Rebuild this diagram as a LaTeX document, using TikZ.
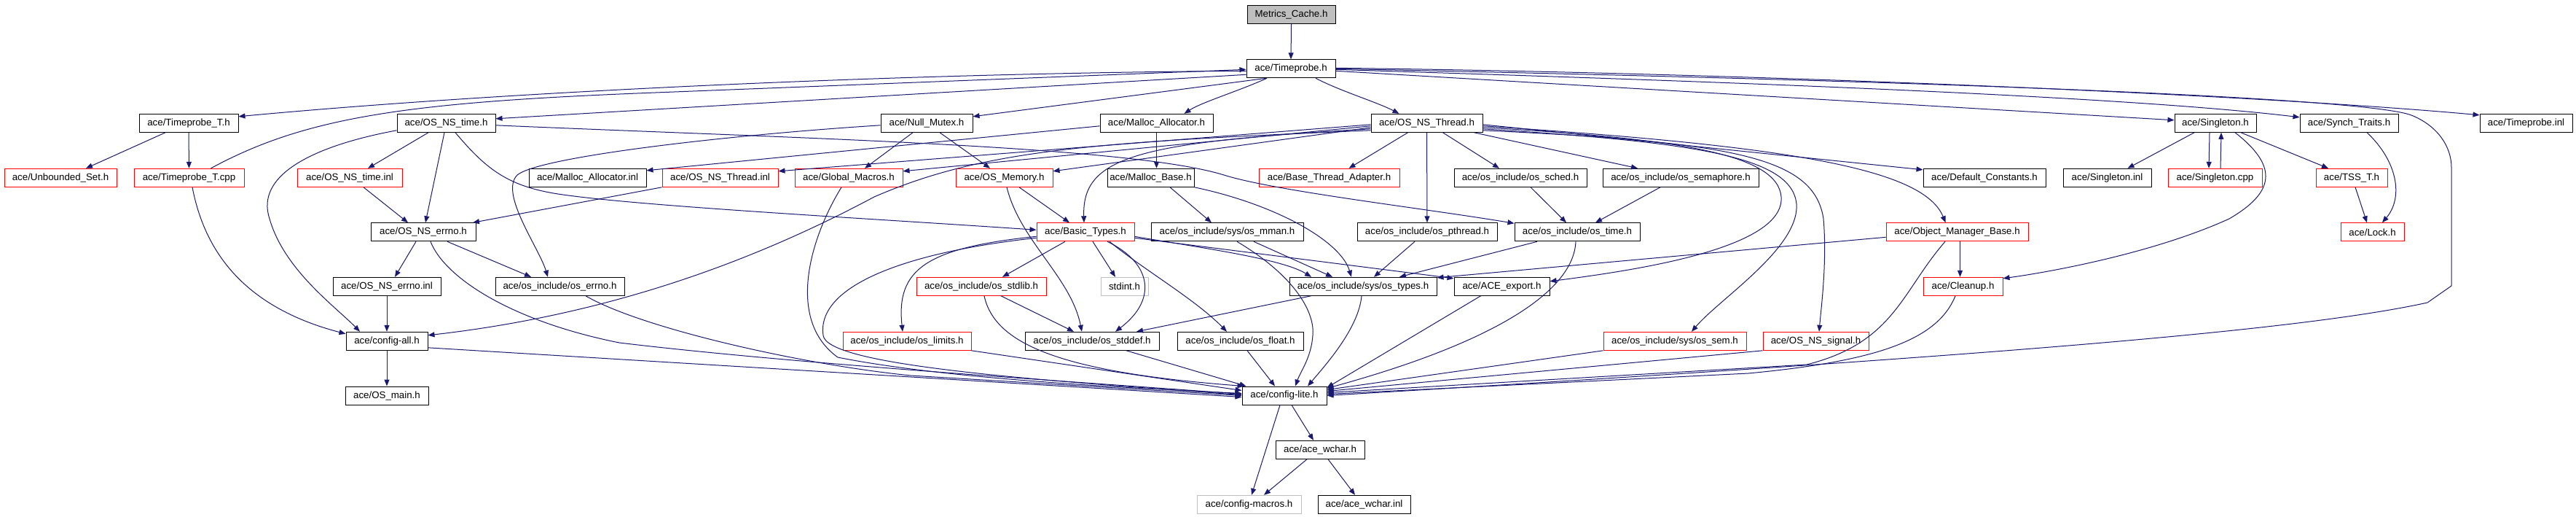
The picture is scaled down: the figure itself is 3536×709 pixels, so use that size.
\documentclass[tikz,border=0pt]{standalone}
\usepackage{fontspec}
\setmainfont{Liberation Sans}
\usetikzlibrary{arrows.meta,calc}
\definecolor{edgec}{HTML}{191970}
\definecolor{nred}{HTML}{FF0000}
\definecolor{lgray}{HTML}{BFBFBF}
\tikzset{
  box/.style={draw=black, line width=1pt, minimum height=25pt, inner sep=0pt, fill=white,
    font=\fontsize{13.3pt}{15pt}\selectfont, text=black},
  nb/.style={box},
  nr/.style={box, draw=nred},
  ng/.style={box, draw=lgray},
  nroot/.style={box, fill=lgray},
  lnk/.style={draw=edgec, line width=1pt, -{Triangle[length=9pt,width=7pt]}},
}
\begin{document}
\begin{tikzpicture}[x=1pt,y=-1pt]
\fill[white] (0,0) rectangle (3536,709);
\useasboundingbox (0,0) rectangle (3536,709);
% row 0
\node[nroot, minimum width=121pt] (meta) at (1772.5,19.8) {Metrics\_Cache.h};
% row 1
\node[nb, minimum width=122pt] (tp) at (1772,94.3) {ace/Timeprobe.h};
% row 2
\node[nb, minimum width=136pt] (tpT) at (259,168.8) {ace/Timeprobe\_T.h};
\node[nb, minimum width=135pt] (nstime) at (612.5,168.8) {ace/OS\_NS\_time.h};
\node[nb, minimum width=126pt] (nullm) at (1272,168.8) {ace/Null\_Mutex.h};
\node[nb, minimum width=155pt] (malloc) at (1587.5,168.8) {ace/Malloc\_Allocator.h};
\node[nb, minimum width=153pt] (nsthr) at (1958.5,168.8) {ace/OS\_NS\_Thread.h};
\node[nb, minimum width=112pt] (single) at (3041,168.8) {ace/Singleton.h};
\node[nb, minimum width=135pt] (synch) at (3224.5,168.8) {ace/Synch\_Traits.h};
\node[nb, minimum width=127pt] (tpinl) at (3467.5,168.8) {ace/Timeprobe.inl};
% row 3
\node[nr, minimum width=154pt] (unb) at (83,243.8) {ace/Unbounded\_Set.h};
\node[nr, minimum width=151pt] (tpTcpp) at (259.5,243.8) {ace/Timeprobe\_T.cpp};
\node[nr, minimum width=144pt] (nstimeinl) at (480,243.8) {ace/OS\_NS\_time.inl};
\node[nb, minimum width=161pt] (mallocinl) at (806.5,243.8) {ace/Malloc\_Allocator.inl};
\node[nr, minimum width=159pt] (nsthrinl) at (988.5,243.8) {ace/OS\_NS\_Thread.inl};
\node[nr, minimum width=148pt] (glob) at (1165,243.8) {ace/Global\_Macros.h};
\node[nr, minimum width=133pt] (osmem) at (1378.5,243.8) {ace/OS\_Memory.h};
\node[nb, minimum width=119pt] (mbase) at (1579.5,243.8) {ace/Malloc\_Base.h};
\node[nr, minimum width=193pt] (bta) at (1824.5,243.8) {ace/Base\_Thread\_Adapter.h};
\node[nb, minimum width=182pt] (sched) at (2087,243.8) {ace/os\_include/os\_sched.h};
\node[nb, minimum width=214pt] (semaph) at (2307,243.8) {ace/os\_include/os\_semaphore.h};
\node[nb, minimum width=168pt] (defc) at (2724,243.8) {ace/Default\_Constants.h};
\node[nb, minimum width=121pt] (singinl) at (2892.5,243.8) {ace/Singleton.inl};
\node[nr, minimum width=129pt] (singcpp) at (3040.5,243.8) {ace/Singleton.cpp};
\node[nr, minimum width=98pt] (tss) at (3228,243.8) {ace/TSS\_T.h};
% row 4
\node[nb, minimum width=144pt] (nserrno) at (581,318.3) {ace/OS\_NS\_errno.h};
\node[nr, minimum width=134pt] (basic) at (1490,318.3) {ace/Basic\_Types.h};
\node[nb, minimum width=209pt] (mman) at (1684.5,318.3) {ace/os\_include/sys/os\_mman.h};
\node[nb, minimum width=192pt] (pthr) at (1959,318.3) {ace/os\_include/os\_pthread.h};
\node[nb, minimum width=172pt] (ostime) at (2165,318.3) {ace/os\_include/os\_time.h};
\node[nr, minimum width=195pt] (omb) at (2686.5,318.3) {ace/Object\_Manager\_Base.h};
\node[nr, minimum width=87pt] (lock) at (3256.5,318.3) {ace/Lock.h};
% row 5
\node[nb, minimum width=148pt] (nserrnoinl) at (531,392.8) {ace/OS\_NS\_errno.inl};
\node[nb, minimum width=177pt] (oserrno) at (768.5,392.8) {ace/os\_include/os\_errno.h};
\node[nr, minimum width=178pt] (stdlib) at (1347,392.8) {ace/os\_include/os\_stdlib.h};
\node[ng, minimum width=65pt] (stdint) at (1543.5,392.8) {stdint.h};
\node[nb, minimum width=202pt] (types) at (1871,392.8) {ace/os\_include/sys/os\_types.h};
\node[nb, minimum width=131pt] (export) at (2061.5,392.8) {ace/ACE\_export.h};
\node[nr, minimum width=109pt] (cleanup) at (2694.5,392.8) {ace/Cleanup.h};
% row 6
\node[nb, minimum width=112pt] (cfgall) at (531,467.8) {ace/config-all.h};
\node[nr, minimum width=176pt] (limits) at (1245,467.8) {ace/os\_include/os\_limits.h};
\node[nb, minimum width=184pt] (stddef) at (1499,467.8) {ace/os\_include/os\_stddef.h};
\node[nb, minimum width=173pt] (float) at (1702.5,467.8) {ace/os\_include/os\_float.h};
\node[nr, minimum width=196pt] (sem) at (2299,467.8) {ace/os\_include/sys/os\_sem.h};
\node[nr, minimum width=145pt] (signal) at (2492.5,467.8) {ace/OS\_NS\_signal.h};
% row 7
\node[nb, minimum width=114pt] (osmain) at (531,542.5) {ace/OS\_main.h};
\node[nb, minimum width=116pt] (lite) at (1763,542.5) {ace/config-lite.h};
% row 8
\node[nb, minimum width=122pt] (wchar) at (1812,616.8) {ace/ace\_wchar.h};
% row 9
\node[ng, minimum width=143pt] (macros) at (1714.5,691.8) {ace/config-macros.h};
\node[nb, minimum width=127pt] (wcharinl) at (1872.5,691.8) {ace/ace\_wchar.inl};

% ---------------- edges ----------------
\draw[lnk] (meta.south) -- (tp.north);
\draw[lnk] ($(tp.west)+(0,3)$) .. controls (1250,100) and (700,125) .. ($(tpT.east)+(0,-9)$);
\draw[lnk] ($(tpTcpp.north)+(30,0)$) .. controls (420,160) and (560,140) .. (900,127) -- ($(tp.west)+(0,1)$);
\draw[lnk] ($(tp.west)+(0,8)$) -- ($(nstime.east)+(0,-6)$);
\draw[lnk] ($(tp.south)+(-34,0)$) -- ($(nullm.east)+(0,-9)$);
\draw[lnk] ($(tp.south)+(-33,0)$) .. controls (1700,125) and (1650,140) .. ($(malloc.north)+(38,0)$);
\draw[lnk] ($(tp.south)+(34,0)$) .. controls (1840,125) and (1890,140) .. ($(nsthr.north)+(-38,0)$);
\draw[lnk] ($(tp.east)+(0,3)$) -- ($(single.west)+(0,-4)$);
\draw[lnk] ($(tp.east)+(0,1)$) .. controls (2300,110) and (2900,130) .. ($(synch.west)+(0,-8)$);
\draw[lnk] ($(tp.east)+(0,-1)$) .. controls (2400,100) and (3100,130) .. ($(tpinl.west)+(0,-11)$);
\draw[lnk] ($(tp.east)+(0,0)$) .. controls (2700,112) and (3250,135) .. (3310,158) .. controls (3345,172) and (3365,200) .. (3365,230) -- (3365,392) -- (3332,415) .. controls (3150,455) and (2700,490) .. ($(lite.east)+(0,0)$);

\draw[lnk] ($(nsthr.west)+(0,2)$) -- ($(nsthrinl.east)+(0,-9)$);
\draw[lnk] ($(nsthr.west)+(0,4)$) -- ($(glob.east)+(0,-9)$);
\draw[lnk] ($(nsthr.west)+(0,6)$) -- ($(osmem.east)+(0,-9)$);
\draw[lnk] ($(nsthr.west)+(0,8)$) .. controls (1560,195) and (1485,215) .. ($(basic.north)+(-2,0)$);
\draw[lnk] ($(nsthr.west)+(0,10)$) .. controls (1500,195) and (1350,205) .. (1200,270) .. controls (1050,350) and (850,430) .. ($(cfgall.east)+(0,-8)$);
\draw[lnk] ($(nsthr.south)+(-26,0)$) -- ($(bta.north)+(27,0)$);
\draw[lnk] (nsthr.south) -- (pthr.north);
\draw[lnk] ($(nsthr.south)+(22,0)$) -- ($(sched.north)+(-29,0)$);
\draw[lnk] ($(nsthr.south)+(65,0)$) -- ($(semaph.north)+(-59,0)$);
\draw[lnk] ($(nsthr.east)+(0,2)$) -- ($(defc.west)+(0,-11)$);
\draw[lnk] ($(nsthr.east)+(0,4)$) .. controls (2450,200) and (2640,230) .. ($(omb.north)+(-16,0)$);
\draw[lnk] ($(nsthr.east)+(0,6)$) .. controls (2300,190) and (2440,210) .. (2445,270) .. controls (2450,340) and (2250,370) .. ($(export.east)+(0,-7)$);
\draw[lnk] ($(nsthr.east)+(0,8)$) .. controls (2330,195) and (2460,215) .. (2466,280) .. controls (2470,340) and (2360,410) .. ($(sem.north)+(23,0)$);
\draw[lnk] ($(nsthr.east)+(0,10)$) .. controls (2380,195) and (2490,215) .. (2503,300) .. controls (2508,360) and (2500,420) .. ($(signal.north)+(4.5,0)$);

\draw[lnk] ($(nstime.south)+(-24.5,0)$) -- ($(nstimeinl.north)+(25,0)$);
\draw[lnk] ($(nstime.south)+(-2.5,0)$) -- ($(nserrno.north)+(3,0)$);
\draw[lnk] ($(nstime.south)+(12.5,0)$) .. controls (670,235) and (700,258) .. (780,268) .. controls (900,284) and (1200,300) .. ($(basic.west)+(0,-3)$);
\draw[lnk] ($(nstime.east)+(0,3)$) .. controls (1100,190) and (1550,200) .. (1680,240) .. controls (1750,262) and (1950,285) .. ($(ostime.north west)+(0,1)$);
\draw[lnk] ($(nstime.west)+(0,10)$) .. controls (430,200) and (350,240) .. (370,300) .. controls (390,370) and (460,420) .. ($(cfgall.north)+(-37,0)$);

\draw[lnk] ($(tpT.south)+(-32,0)$) -- ($(unb.north)+(35,0)$);
\draw[lnk] (tpT.south) -- (tpTcpp.north);
\draw[lnk] ($(tpTcpp.south)+(4.5,0)$) .. controls (280,340) and (330,420) .. ($(cfgall.west)+(0,-10)$);

\draw[lnk] ($(nullm.south)+(-19,0)$) -- ($(glob.north)+(22,0)$);
\draw[lnk] ($(nullm.south)+(18,0)$) -- ($(osmem.north)+(-19.5,0)$);
\draw[lnk] ($(nullm.west)+(0,3)$) .. controls (1000,185) and (740,215) .. (710,240) .. controls (685,265) and (740,340) .. ($(oserrno.north)+(-16.5,0)$);
\draw[lnk] ($(malloc.west)+(0,4)$) -- ($(mallocinl.east)+(0,-10)$);
\draw[lnk] (malloc.south) -- ($(mbase.north)+(8,0)$);
\draw[lnk] (nsthrinl.south west) -- ($(nserrno.north)+(68,0)$);
\draw[lnk] ($(nstimeinl.south)+(19,0)$) -- ($(nserrno.north)+(-21,0)$);
\draw[lnk] ($(glob.south)+(-10,0)$) .. controls (1110,330) and (1080,440) .. (1150,490) .. controls (1300,520) and (1550,532) .. ($(lite.west)+(0,-3)$);
\draw[lnk] ($(osmem.south)+(20.5,0)$) -- ($(basic.north)+(-22,0)$);
\draw[lnk] ($(osmem.south)+(3.5,0)$) .. controls (1400,330) and (1470,380) .. ($(stddef.north)+(-14,0)$);
\draw[lnk] ($(mbase.south)+(26.5,0)$) -- ($(mman.north)+(-21.5,0)$);
\draw[lnk] (mbase.south east) .. controls (1750,280) and (1840,330) .. ($(types.north)+(-16,0)$);
\draw[lnk] ($(sched.south)+(14,0)$) -- ($(ostime.north)+(-15,0)$);
\draw[lnk] ($(semaph.south)+(-28,0)$) -- ($(ostime.north)+(25,0)$);
\draw[lnk] ($(pthr.south)+(-17,0)$) -- ($(types.north)+(15,0)$);
\draw[lnk] ($(ostime.south)+(-55,0)$) -- ($(types.north)+(50,0)$);
\draw[lnk] ($(ostime.south)+(-2,0)$) .. controls (2160,400) and (2050,470) .. ($(lite.east)+(0,-10)$);
\draw[lnk] ($(omb.west)+(0,7)$) -- ($(types.north east)+(0,1)$);
\draw[lnk] ($(omb.south)+(4,0)$) -- ($(cleanup.north)+(-4,0)$);
\draw[lnk] ($(omb.south)+(-16.5,0)$) .. controls (2610,400) and (2600,470) .. (2480,500) -- ($(lite.east)+(0,-4)$);

\draw[lnk] ($(single.south)+(-29,0)$) -- ($(singinl.north)+(28,0)$);
\draw[lnk] ($(single.south)+(-8,0)$) -- ($(singcpp.north)+(-8.5,0)$);
\draw[lnk] ($(singcpp.north)+(7.5,0)$) -- ($(single.south)+(8,0)$);
\draw[lnk] ($(single.south)+(35,0)$) -- ($(tss.north)+(-32,0)$);
\draw[lnk] ($(single.south)+(27,0)$) .. controls (3130,230) and (3120,265) .. (3060,300) .. controls (2950,350) and (2800,375) .. ($(cleanup.east)+(0,-11)$);
\draw[lnk] ($(synch.south)+(24.5,0)$) .. controls (3290,220) and (3300,270) .. ($(lock.north)+(13.5,0)$);
\draw[lnk] ($(tss.south)+(5,0)$) -- ($(lock.north)+(-7.5,0)$);

\draw[lnk] ($(nserrno.south)+(-10,0)$) -- ($(nserrnoinl.north)+(11,0)$);
\draw[lnk] ($(nserrno.south)+(33,0)$) -- ($(oserrno.north)+(-39.5,0)$);
\draw[lnk] ($(nserrno.south)+(10,0)$) .. controls (610,380) and (700,440) .. (850,470) .. controls (1100,500) and (1500,525) .. ($(lite.west)+(0,-2)$);
\draw[lnk] (nserrnoinl.south) -- (cfgall.north);
\draw[lnk] ($(oserrno.south)+(35.5,0)$) .. controls (880,450) and (1100,500) .. (1250,515) -- ($(lite.west)+(0,0)$);
\draw[lnk] (cfgall.south) -- (osmain.north);
\draw[lnk] ($(cfgall.east)+(0,9)$) -- ($(lite.west)+(0,2)$);

\draw[lnk] ($(basic.west)+(0,6)$) .. controls (1270,340) and (1230,370) .. ($(limits.north)+(-6,0)$);
\draw[lnk] ($(basic.west)+(0,8)$) .. controls (1250,345) and (1120,390) .. (1130,460) .. controls (1135,500) and (1400,520) .. ($(lite.west)+(0,-1)$);
\draw[lnk] ($(basic.south)+(-28,0)$) -- ($(stdlib.north)+(29,0)$);
\draw[lnk] ($(basic.south)+(10,0)$) -- ($(stdint.north)+(-12.5,0)$);
\draw[lnk] ($(basic.south)+(30,0)$) .. controls (1580,360) and (1590,410) .. ($(stddef.north)+(32,0)$);
\draw[lnk] ($(basic.south)+(33,0)$) .. controls (1570,370) and (1640,410) .. ($(float.north)+(-18.5,0)$);
\draw[lnk] ($(basic.east)+(0,6)$) .. controls (1650,340) and (1760,355) .. ($(types.north)+(-71,0)$);
\draw[lnk] ($(basic.east)+(0,8)$) -- ($(export.west)+(0,-11)$);
\draw[lnk] ($(stdlib.south)+(27,0)$) -- ($(stddef.north)+(-25,0)$);
\draw[lnk] ($(stdlib.south)+(4,0)$) .. controls (1365,470) and (1450,510) .. ($(lite.north west)+(3,0)$);
\draw[lnk] ($(mman.south)+(36.5,0)$) -- ($(types.north)+(-42,0)$);
\draw[lnk] ($(mman.south)+(13.5,0)$) .. controls (1780,380) and (1805,430) .. (1802,460) .. controls (1800,490) and (1785,510) .. ($(lite.north)+(15,0)$);
\draw[lnk] ($(types.south)+(-2,0)$) .. controls (1865,450) and (1820,500) .. ($(lite.north)+(32,0)$);
\draw[lnk] ($(types.south west)+(30,0)$) -- ($(stddef.north)+(61,0)$);
\draw[lnk] ($(export.south)+(-29,0)$) -- ($(lite.east)+(0,-11)$);
\draw[lnk] (sem.south west) -- ($(lite.east)+(0,-8)$);
\draw[lnk] (signal.south west) -- ($(lite.east)+(0,-6)$);
\draw[lnk] ($(cleanup.south)+(-10.5,0)$) .. controls (2660,465) and (2580,495) .. (2400,512) -- ($(lite.east)+(0,-2)$);
\draw[lnk] ($(stddef.south)+(47,0)$) -- ($(lite.north west)+(6,0)$);
\draw[lnk] ($(float.south)+(9.5,0)$) -- ($(lite.north)+(-13,0)$);
\draw[lnk] (limits.south east) -- ($(lite.west)+(0,-7)$);

\draw[lnk] ($(lite.south)+(-6,0)$) -- ($(macros.north)+(3.5,0)$);
\draw[lnk] ($(lite.south)+(10,0)$) -- ($(wchar.north)+(-9,0)$);
\draw[lnk] ($(wchar.south)+(-18,0)$) -- ($(macros.north)+(20.5,0)$);
\draw[lnk] ($(wchar.south)+(11,0)$) -- ($(wcharinl.north)+(-12.5,0)$);
\end{tikzpicture}
\end{document}
